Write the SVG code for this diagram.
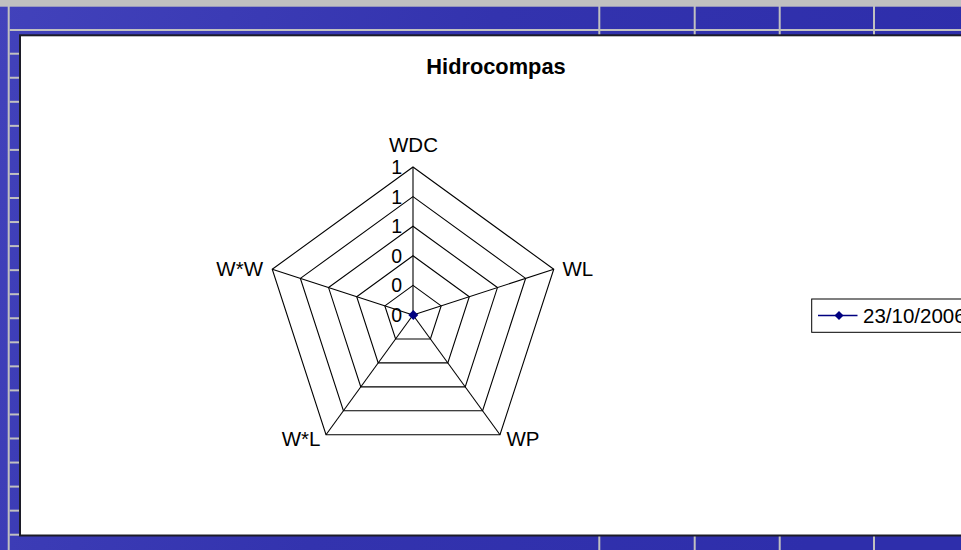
<svg xmlns="http://www.w3.org/2000/svg" width="961" height="550" viewBox="0 0 961 550">
  <style>
    .bg { fill: #3535b0; }
    .gray { stroke: #c0c0c0; stroke-width: 2; fill: none; }
    .grid { stroke: #000000; stroke-width: 1.1; fill: none; }
    .lbl { font-family: "Liberation Sans", Arial, sans-serif; font-size: 20.5px; fill: #000000; }
    .num { font-family: "Liberation Sans", Arial, sans-serif; font-size: 19.5px; fill: #000000; text-anchor: end; }
    .title { font-family: "Liberation Sans", Arial, sans-serif; font-size: 21.8px; font-weight: bold; fill: #000000; text-anchor: middle; }
    .series { stroke: #000080; stroke-width: 1.3; fill: none; }
    .marker { fill: #000080; }
  </style>
  <defs>
    <linearGradient id="tex" x1="0" y1="0" x2="1" y2="0.2">
      <stop offset="0" stop-color="#4242bb"/>
      <stop offset="0.5" stop-color="#3333ae"/>
      <stop offset="1" stop-color="#2e2eab"/>
    </linearGradient>
  </defs>

  <g id="background">
    <rect x="0" y="0" width="961" height="550" fill="url(#tex)"/>
    <rect x="0" y="0" width="961" height="6.7" fill="#c0c0c0"/>
    <line class="gray" x1="8.7" y1="6" x2="8.7" y2="550"/>
    <line class="gray" x1="9.7" y1="30" x2="961" y2="30"/>
    <g id="left-ticks">
      <line class="gray" x1="9.7" y1="53.7" x2="20" y2="53.7"/>
      <line class="gray" x1="9.7" y1="77.75" x2="20" y2="77.75"/>
      <line class="gray" x1="9.7" y1="101.8" x2="20" y2="101.8"/>
      <line class="gray" x1="9.7" y1="125.85" x2="20" y2="125.85"/>
      <line class="gray" x1="9.7" y1="149.9" x2="20" y2="149.9"/>
      <line class="gray" x1="9.7" y1="173.95" x2="20" y2="173.95"/>
      <line class="gray" x1="9.7" y1="198" x2="20" y2="198"/>
      <line class="gray" x1="9.7" y1="222.05" x2="20" y2="222.05"/>
      <line class="gray" x1="9.7" y1="246.1" x2="20" y2="246.1"/>
      <line class="gray" x1="9.7" y1="270.15" x2="20" y2="270.15"/>
      <line class="gray" x1="9.7" y1="294.2" x2="20" y2="294.2"/>
      <line class="gray" x1="9.7" y1="318.25" x2="20" y2="318.25"/>
      <line class="gray" x1="9.7" y1="342.3" x2="20" y2="342.3"/>
      <line class="gray" x1="9.7" y1="366.35" x2="20" y2="366.35"/>
      <line class="gray" x1="9.7" y1="390.4" x2="20" y2="390.4"/>
      <line class="gray" x1="9.7" y1="414.45" x2="20" y2="414.45"/>
      <line class="gray" x1="9.7" y1="438.5" x2="20" y2="438.5"/>
      <line class="gray" x1="9.7" y1="462.55" x2="20" y2="462.55"/>
      <line class="gray" x1="9.7" y1="486.6" x2="20" y2="486.6"/>
      <line class="gray" x1="9.7" y1="510.65" x2="20" y2="510.65"/>
      <line class="gray" x1="9.7" y1="534.7" x2="20" y2="534.7"/>
    </g>
    <g id="top-bottom-ticks">
      <line class="gray" x1="599.3" y1="6" x2="599.3" y2="36"/>
      <line class="gray" x1="694.7" y1="6" x2="694.7" y2="36"/>
      <line class="gray" x1="779.7" y1="6" x2="779.7" y2="36"/>
      <line class="gray" x1="874" y1="6" x2="874" y2="36"/>
      <line class="gray" x1="599.3" y1="535" x2="599.3" y2="550"/>
      <line class="gray" x1="694.7" y1="535" x2="694.7" y2="550"/>
      <line class="gray" x1="779.7" y1="535" x2="779.7" y2="550"/>
      <line class="gray" x1="874" y1="535" x2="874" y2="550"/>
    </g>
  </g>

  <g id="chart-area">
    <rect x="20" y="35.3" width="945" height="500.2" fill="#ffffff" stroke="#1c1c28" stroke-width="2"/>
  </g>

  <g id="title">
    <text class="title" x="496" y="74">Hidrocompas</text>
  </g>

  <g id="radar-grid">
    <polygon class="grid" points="413,167 553.76,269.27 499.99,434.73 326.01,434.73 272.24,269.27"/>
    <polygon class="grid" points="413,196.6 525.61,278.41 482.59,410.79 343.41,410.79 300.39,278.41"/>
    <polygon class="grid" points="413,226.2 497.45,287.56 465.2,386.84 360.8,386.84 328.55,287.56"/>
    <polygon class="grid" points="413,255.8 469.3,296.71 447.8,362.89 378.2,362.89 356.7,296.71"/>
    <polygon class="grid" points="413,285.4 441.15,305.85 430.4,338.95 395.6,338.95 384.85,305.85"/>
  </g>

  <g id="connectors">
    <line class="grid" x1="413" y1="315" x2="413" y2="167"/>
    <line class="grid" x1="413" y1="315" x2="553.76" y2="269.27"/>
    <line class="grid" x1="413" y1="315" x2="499.99" y2="434.73"/>
    <line class="grid" x1="413" y1="315" x2="326.01" y2="434.73"/>
    <line class="grid" x1="413" y1="315" x2="272.24" y2="269.27"/>
  </g>

  <g id="axis-values">
    <text class="num" x="402" y="174">1</text>
    <text class="num" x="402" y="203.6">1</text>
    <text class="num" x="402" y="233.2">1</text>
    <text class="num" x="402" y="262.8">0</text>
    <text class="num" x="402" y="292.4">0</text>
    <text class="num" x="402" y="322">0</text>
  </g>

  <g id="node-WDC"><text class="lbl" x="413.5" y="152" text-anchor="middle">WDC</text></g>
  <g id="node-WL"><text class="lbl" x="562.5" y="276">WL</text></g>
  <g id="node-WP"><text class="lbl" x="506.5" y="446">WP</text></g>
  <g id="node-WxL"><text class="lbl" x="320.5" y="446" text-anchor="end">W*L</text></g>
  <g id="node-WxW"><text class="lbl" x="263" y="276" text-anchor="end">W*W</text></g>

  <g id="series">
    <polygon class="marker" points="413.3,310 418.3,315 413.3,320 408.3,315"/>
  </g>

  <g id="legend">
    <rect x="811.7" y="299" width="160" height="33.3" fill="#ffffff" stroke="#000000" stroke-width="1"/>
    <line class="series" x1="818" y1="315.5" x2="857.5" y2="315.5"/>
    <polygon class="marker" points="839,311 843.5,315.5 839,320 834.5,315.5"/>
    <text class="lbl" x="863" y="323.3">23/10/2006</text>
  </g>
</svg>
